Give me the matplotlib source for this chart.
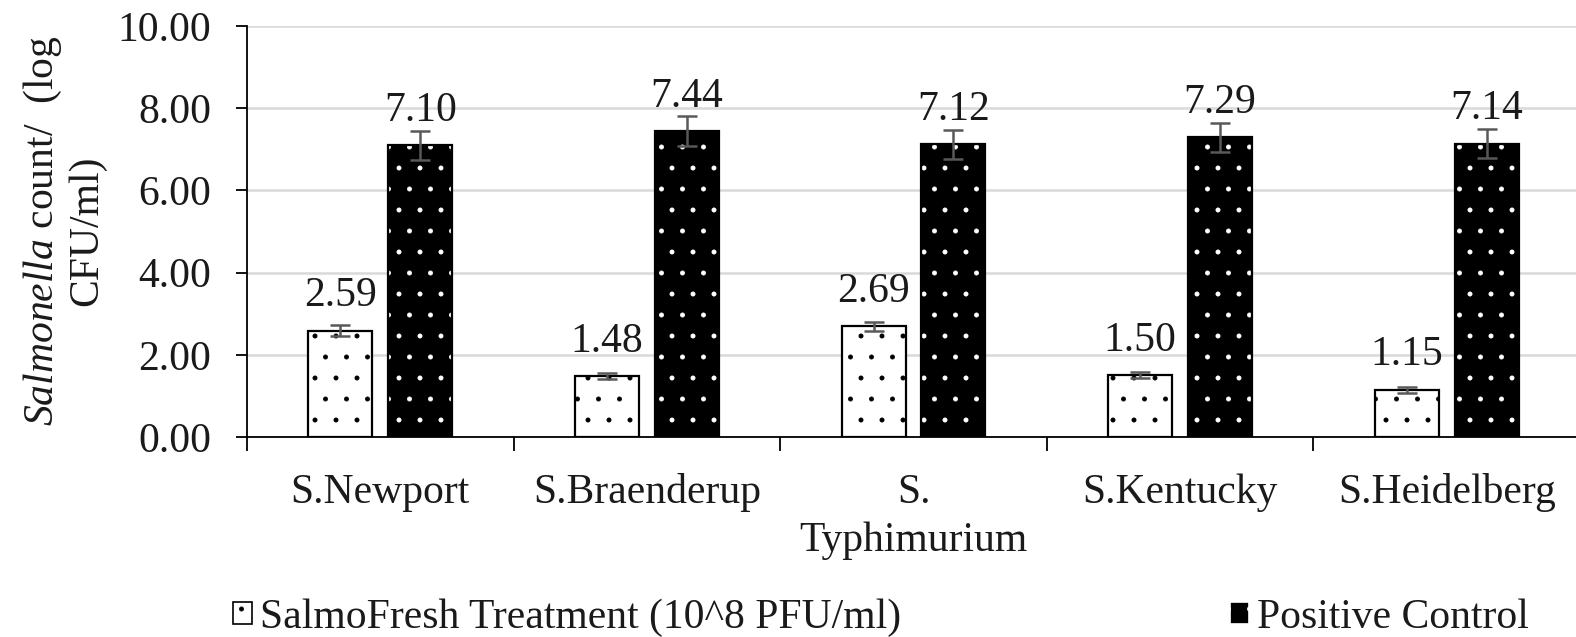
import matplotlib
matplotlib.use("Agg")
from matplotlib import pyplot as plt
from matplotlib.patches import Patch
import numpy as np

strains = ["S.Newport", "S.Braenderup", "S.\nTyphimurium", "S.Kentucky", "S.Heidelberg"]
treatment = [2.59, 1.48, 2.69, 1.50, 1.15]
treatment_err = [0.13, 0.07, 0.12, 0.07, 0.07]
control = [7.10, 7.44, 7.12, 7.29, 7.14]
control_err = [0.35, 0.37, 0.36, 0.35, 0.36]
series_names = ["SalmoFresh Treatment (10^8 PFU/ml)", "Positive Control"]
y_ticks = [0, 2, 4, 6, 8, 10]

# dpi 126 so the '.' hatch spacing comes out close to the original dot density
DPI = 126
K = 100 / DPI  # sizes below were measured as points at 100 dpi

plt.rcParams["font.family"] = ["Liberation Serif", "DejaVu Serif"]
plt.rcParams["mathtext.fontset"] = "custom"
plt.rcParams["mathtext.rm"] = "Liberation Serif"
plt.rcParams["mathtext.it"] = "Liberation Serif:italic"
plt.rcParams["hatch.linewidth"] = 0.4
FS = 30 * K
TXT = "#1a1a1a"


def plotter():
    fig = plt.figure(figsize=(1576 / DPI, 637 / DPI), dpi=DPI)
    ax = fig.add_axes([247 / 1576, 1 - 437 / 637, 1333 / 1576, 411 / 637])

    x = np.arange(len(strains))
    w = 0.24
    off = 0.15

    # bars: fill + dots first, outline on top
    ax.bar(x - off, treatment, w, color="white", edgecolor="black", hatch=".", linewidth=0, zorder=2)
    ax.bar(x - off, treatment, w, fill=False, edgecolor="black", linewidth=1.6 * K, zorder=3)
    ax.bar(x + off, control, w, color="black", edgecolor="white", hatch=".", linewidth=0, zorder=2)
    ax.bar(x + off, control, w, fill=False, edgecolor="black", linewidth=1.6 * K, zorder=3)

    ax.errorbar(x - off, treatment, yerr=treatment_err, fmt="none", ecolor="#595959",
                elinewidth=1.8 * K, capsize=7 * K, capthick=1.8 * K, zorder=4)
    ax.errorbar(x + off, control, yerr=control_err, fmt="none", ecolor="#595959",
                elinewidth=1.8 * K, capsize=7 * K, capthick=1.8 * K, zorder=4)

    for xi, v in zip(x - off, treatment):
        ax.text(xi, v + 0.6, f"{v:.2f}", ha="center", va="baseline", fontsize=FS, color=TXT)
    for xi, v in zip(x + off, control):
        ax.text(xi, v + 0.6, f"{v:.2f}", ha="center", va="baseline", fontsize=FS, color=TXT)

    ax.set_xlim(-0.5, len(strains) - 0.5)
    ax.set_ylim(0, 10)
    ax.set_yticks(y_ticks)
    ax.set_yticklabels([f"{t:.2f}" for t in y_ticks])
    ax.set_xticks(x)
    ax.set_xticklabels(strains, linespacing=1.35)
    ax.set_xticks(np.arange(-0.5, len(strains)), minor=True)
    ax.tick_params(axis="x", which="major", length=0, pad=26 * K, labelsize=FS, labelcolor=TXT)
    ax.tick_params(axis="x", which="minor", length=10 * K, width=1.3 * K, direction="out")
    ax.tick_params(axis="y", length=8 * K, width=1.3 * K, pad=18 * K, labelsize=FS, labelcolor=TXT)

    ax.grid(axis="y", color="#d9d9d9", linewidth=1.8 * K, zorder=0)
    ax.set_axisbelow(True)
    for s in ["top", "right"]:
        ax.spines[s].set_visible(False)
    ax.spines["left"].set_linewidth(1.3 * K)
    ax.spines["bottom"].set_linewidth(1.3 * K)

    fig.text(64 / 1576, 1 - 231 / 637, "$\\it{Salmonella}$ count/  (log\nCFU/ml)",
             rotation=90, ha="center", va="center", fontsize=FS, color=TXT,
             multialignment="center", linespacing=1.1)

    handles = [Patch(facecolor="white", edgecolor="black", hatch=".", linewidth=1.2 * K),
               Patch(facecolor="black", edgecolor="white", hatch=".", linewidth=1.2 * K)]
    fig.legend(handles, series_names, loc="center", bbox_to_anchor=(0.559, 0.03), ncol=2,
               frameon=False, fontsize=FS, handlelength=0.45, handleheight=0.45,
               handletextpad=0.2, columnspacing=7.9, labelcolor=TXT)

    plt.savefig("out.png", dpi=DPI)


def main():
    plotter()


if __name__ == "__main__":
    main()
